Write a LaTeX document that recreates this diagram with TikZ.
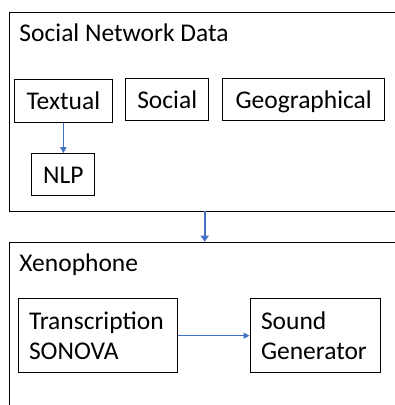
\documentclass[tikz,border=0pt]{standalone}
\usepackage{fontspec}
\setmainfont{Carlito}
\usetikzlibrary{arrows.meta}
\definecolor{flowblue}{HTML}{4472C4}
\begin{document}
\begin{tikzpicture}[x=1pt,y=-1pt,
  panel/.style={draw=black, line width=1pt, anchor=north west, inner sep=0pt},
  title/.style={anchor=base west, inner sep=0pt, font=\fontsize{25.5}{30}\selectfont},
  box/.style={draw=black, line width=1pt, inner sep=0pt, text height=20pt, text depth=2.7pt,
    font=\fontsize{25.5}{30}\selectfont},
  tallbox/.style={draw=black, line width=1pt, inner sep=0pt, align=left, inner xsep=11pt,
    font=\fontsize{25.5}{30}\selectfont},
  flow/.style={draw=flowblue, line width=1.1pt, -{Triangle[length=6pt,width=6pt]}},
  bigflow/.style={draw=flowblue, line width=2.2pt, -{Triangle[length=6pt,width=8pt]}},
]
\useasboundingbox (0,0) rectangle (395,405);
\clip (0,0) rectangle (395,405);
\fill[white] (0,0) rectangle (395,405);

% upper panel: data sources
\node[panel, minimum width=420pt, minimum height=199pt] (sn) at (9,12) {};
\node[title] (snt) at (19.3,41.7) {Social Network Data};
\node[box, minimum width=97.3pt, minimum height=42.7pt] (tx) at (63.35,100.65) {Textual};
\node[box, minimum width=83pt, minimum height=42.4pt] (so) at (167.2,99.5) {Social};
\node[box, minimum width=162pt, minimum height=42.4pt] (ge) at (303.7,99.5) {Geographical};
\node[box, minimum width=63pt, minimum height=41.3pt] (nlp) at (63.35,174.35) {NLP};
\draw[flow] (tx.south) -- (nlp.north);

% lower panel: sonification
\node[panel, minimum width=420pt, minimum height=200pt] (xe) at (9,241.7) {};
\node[title] (xet) at (19.3,271) {Xenophone};
\node[tallbox, text width=137.3pt, minimum height=74pt] (tr) at (97.65,335.7) {Transcription\\SONOVA};
\node[tallbox, text width=108pt, minimum height=74pt] (sg) at (315,335.7) {Sound\\Generator};
\draw[flow] (tr.east) -- (sg.west);

% link between the panels
\coordinate (p1) at (204.7,211);
\coordinate (p2) at (204.7,241.7);
\draw[bigflow] (p1) -- (p2);
\end{tikzpicture}
\end{document}
